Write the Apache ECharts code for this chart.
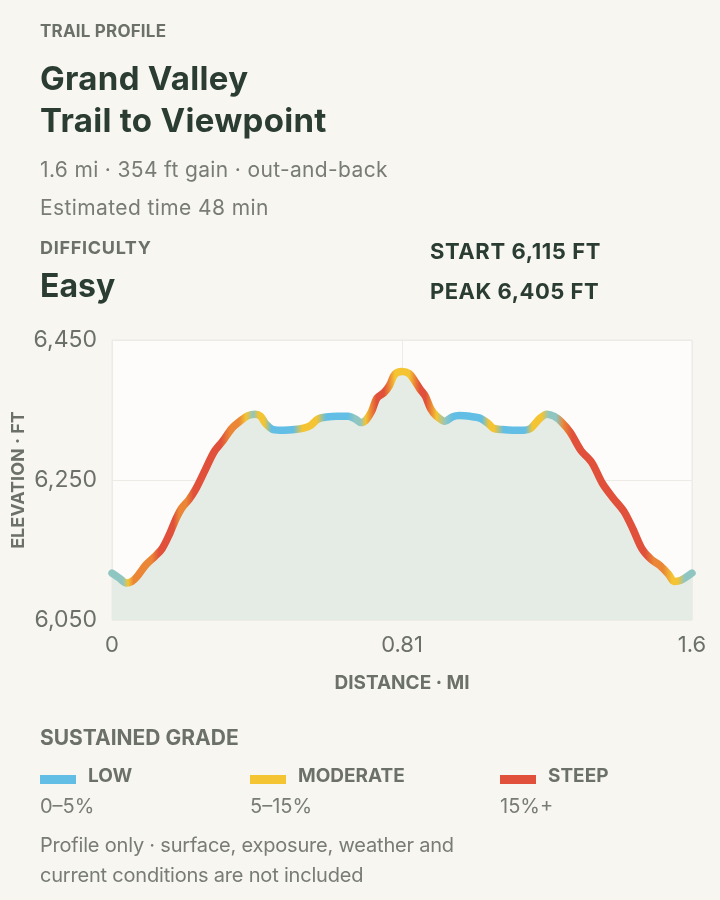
<!DOCTYPE html>
<html>
<head>
<meta charset="utf-8">
<script src="https://cdn.jsdelivr.net/npm/echarts@6/dist/echarts.min.js"></script>
<style>
  html, body { margin: 0; padding: 0; background: #f7f6f1; }
  body { width: 720px; height: 900px; position: relative; overflow: hidden; font-family: Inter, "Noto Sans", sans-serif; }
  #chart { position: absolute; left: 0; top: 0; width: 720px; height: 900px; }
  .t { position: absolute; white-space: nowrap; line-height: 1.2; z-index: 2; }
  .cap { font-weight: 700; color: #6b7068; }
  .dark { font-weight: 700; color: #2b3d33; }
  .body { color: #787c75; font-size: 20px; }
  .sw { position: absolute; width: 36px; height: 9px; z-index: 2; }
</style>
</head>
<body>
<div id="chart"></div>

<div class="t cap" style="left:40px; top:21px; font-size:17px; letter-spacing:0.2px;">TRAIL PROFILE</div>
<div class="t dark" style="left:40px; top:57px; font-size:33px; line-height:42px; letter-spacing:0.3px;">Grand Valley<br>Trail to Viewpoint</div>
<div class="t body" style="left:40px; top:157px; font-size:21px; letter-spacing:0.35px;">1.6 mi · 354 ft gain · out-and-back</div>
<div class="t body" style="left:40px; top:195px; font-size:21px; letter-spacing:0.4px;">Estimated time 48 min</div>
<div class="t cap" style="left:40px; top:237px; font-size:18px; letter-spacing:0.7px;">DIFFICULTY</div>
<div class="t dark" style="left:40px; top:267px; font-size:32px;">Easy</div>
<div class="t dark" style="left:430px; top:238px; font-size:22px; letter-spacing:0.6px;">START 6,115 FT</div>
<div class="t dark" style="left:430px; top:278px; font-size:22px; letter-spacing:0.5px;">PEAK 6,405 FT</div>

<div class="t cap" style="left:40px; top:725px; font-size:21px;">SUSTAINED GRADE</div>
<div id="legend"></div>
<div class="t body" style="left:40px; top:830px; line-height:30px; letter-spacing:-0.2px;">Profile only · surface, exposure, weather and<br>current conditions are not included</div>

<script>
// elevation profile (distance in miles, elevation in feet)
const distMi = [
  0.000, 0.020, 0.040, 0.055, 0.070, 0.095, 0.120, 0.140, 0.160, 0.180,
  0.195, 0.215, 0.235, 0.260, 0.285, 0.310, 0.335, 0.360, 0.380, 0.400,
  0.415, 0.430, 0.450, 0.480, 0.510, 0.535, 0.555, 0.575, 0.600, 0.630,
  0.660, 0.680, 0.695, 0.710, 0.725, 0.740, 0.760, 0.775, 0.790, 0.810,
  0.830, 0.845, 0.860, 0.875, 0.890, 0.905, 0.930, 0.950, 0.970, 1.000,
  1.030, 1.050, 1.065, 1.090, 1.120, 1.150, 1.170, 1.195, 1.215, 1.235,
  1.255, 1.280, 1.310, 1.340, 1.370, 1.400, 1.430, 1.455, 1.480, 1.505,
  1.530, 1.555, 1.570, 1.590, 1.620
];
const elevFt = [
  6117, 6110, 6103, 6105, 6112, 6129, 6141, 6152, 6172, 6196,
  6210, 6222, 6238, 6264, 6290, 6306, 6324, 6335, 6342, 6344,
  6341, 6330, 6322, 6321, 6322, 6324, 6328, 6337, 6340, 6341,
  6341, 6337, 6332, 6336, 6348, 6367, 6375, 6385, 6401, 6405,
  6402, 6392, 6380, 6370, 6352, 6342, 6334, 6340, 6342, 6341,
  6338, 6331, 6324, 6322, 6321, 6321, 6324, 6338, 6344, 6341,
  6333, 6318, 6292, 6275, 6245, 6224, 6205, 6180, 6152, 6137,
  6128, 6115, 6105, 6107, 6117
];
// grade band at each point: F level, L low, M moderate, O moderate-steep, S steep
const gradeClass = [
  'F','F','F','M','O','O','O','S','S','S',
  'O','O','S','S','S','S','O','O','M','F',
  'M','M','L','L','L','M','M','M','L','L',
  'L','F','F','M','O','S','S','O','M','M',
  'M','O','S','S','O','M','F','L','L','L',
  'L','M','M','L','L','L','M','M','F','F',
  'O','S','S','S','S','S','S','S','S','O',
  'O','M','M','F','F'
];
const gradeColors = { F: '#8fc6c2', L: '#62bee4', M: '#f4c433', O: '#ea8636', S: '#e0503a' };

const legendNames = ['LOW', 'MODERATE', 'STEEP'];
const legendRanges = ['0–5%', '5–15%', '15%+'];
const legendKeys = ['L', 'M', 'S'];

const yTicks = [6050, 6250, 6450];
const xTickValues = [0, 0.81, 1.62];
const xTickLabels = ['0', '0.81', '1.6'];

// legend
const legendX = [40, 250, 500];
const legendBox = document.getElementById('legend');
legendNames.forEach((name, i) => {
  legendBox.insertAdjacentHTML('beforeend',
    `<div class="sw" style="left:${legendX[i]}px; top:775px; background:${gradeColors[legendKeys[i]]};"></div>` +
    `<div class="t cap" style="left:${legendX[i] + 48}px; top:765px; font-size:19px;">${name}</div>` +
    `<div class="t body" style="left:${legendX[i]}px; top:794px;">${legendRanges[i]}</div>`);
});

const chart = echarts.init(document.getElementById('chart'));

const last = distMi[distMi.length - 1];
const stops = distMi.map((d, i) => ({ offset: d / last, color: gradeColors[gradeClass[i]] }));

chart.setOption({
  backgroundColor: 'transparent',
  animation: false,
  textStyle: { fontFamily: 'Inter' },
  grid: {
    left: 112, right: 28, top: 340, bottom: 280,
    containLabel: false, outerBoundsMode: 'none',
    show: true, backgroundColor: '#fdfcfa', borderColor: '#ecebe6', borderWidth: 1
  },
  xAxis: {
    type: 'value',
    min: xTickValues[0], max: xTickValues[2], interval: xTickValues[1],
    name: 'DISTANCE · MI', nameLocation: 'middle', nameGap: 54, nameMoveOverlap: false,
    nameTextStyle: { color: '#6b7068', fontSize: 19, fontWeight: 'bold', fontFamily: 'Inter' },
    axisLine: { show: false }, axisTick: { show: false },
    axisLabel: {
      color: '#6b7068', fontSize: 22, margin: 14, fontFamily: 'Inter',
      showMinLabel: true, showMaxLabel: true,
      formatter: v => xTickLabels[Math.round(v / xTickValues[1])]
    },
    splitLine: { show: true, lineStyle: { color: '#ecebe6', width: 1 } }
  },
  yAxis: {
    type: 'value',
    min: yTicks[0], max: yTicks[2], interval: yTicks[1] - yTicks[0],
    name: 'ELEVATION · FT', nameLocation: 'middle', nameGap: 84, nameMoveOverlap: false,
    nameTextStyle: { color: '#6b7068', fontSize: 18, fontWeight: 'bold', fontFamily: 'Inter' },
    axisLine: { show: false }, axisTick: { show: false },
    axisLabel: {
      color: '#6b7068', fontSize: 23, margin: 15, fontFamily: 'Inter',
      formatter: v => v.toLocaleString('en-US')
    },
    splitLine: { lineStyle: { color: '#ecebe6', width: 1 } }
  },
  series: [{
    type: 'line',
    data: distMi.map((d, i) => [d, elevFt[i]]),
    smooth: 0.3,
    showSymbol: false,
    lineStyle: {
      width: 7.5, cap: 'round', join: 'round',
      color: new echarts.graphic.LinearGradient(0, 0, 1, 0, stops)
    },
    areaStyle: { color: '#e5ece5', opacity: 1 }
  }]
});
</script>
</body>
</html>
